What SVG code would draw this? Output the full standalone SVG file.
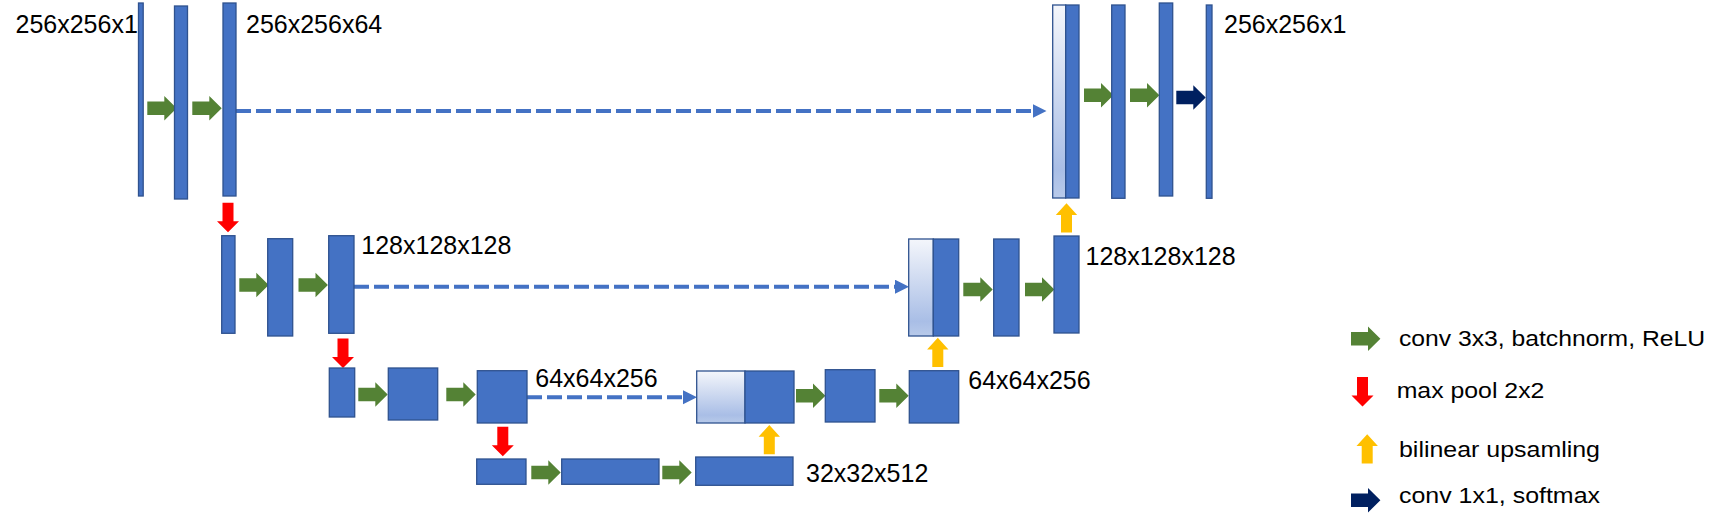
<svg xmlns="http://www.w3.org/2000/svg" xmlns:xlink="http://www.w3.org/1999/xlink" width="1722" height="525" viewBox="0 0 1722 525">
<style>
.b{fill:#4472C4;stroke:#2F528F;stroke-width:1.3}
.g{fill:url(#lg);stroke:#2F528F;stroke-width:1.3}
.lbl{font-family:"Liberation Sans",Arial,sans-serif;font-size:25px;fill:#000}
.leg{font-family:"Liberation Sans",Arial,sans-serif;font-size:21.5px;fill:#000}
.skip{fill:none;stroke:#4472C4;stroke-width:4;stroke-dasharray:15 5}
.grn{fill:#548235}
.red{fill:#FF0000}
.yel{fill:#FFC000}
.nav{fill:#002060}
</style>
<defs>
<linearGradient id="lg" x1="0" y1="0" x2="0" y2="1">
<stop offset="0" stop-color="#F4F6FB"/>
<stop offset="0.85" stop-color="#A9BEE6"/>
<stop offset="1" stop-color="#B8CAEA"/>
</linearGradient>
<marker id="ah" markerUnits="userSpaceOnUse" markerWidth="15" markerHeight="15" refX="0" refY="7" orient="auto">
<path d="M0,0 L14,7 L0,14 Z" fill="#4472C4"/>
</marker>
<path id="ar" d="M0,-6.7 H17 V-12.2 L29.4,0 L17,12.2 V6.7 H0 Z"/>
<path id="dn" d="M-5.5,0 H5.5 V18.5 H11 L0,29.5 L-11,18.5 H-5.5 Z"/>
<path id="up" d="M-5.5,0 V-17.5 H-10.7 L0,-29.3 L10.7,-17.5 H5.5 V0 Z"/>
</defs>

<g id="connectors">
<line class="skip" x1="236" y1="111" x2="1032.5" y2="111" marker-end="url(#ah)"/>
<line class="skip" x1="354" y1="286.7" x2="895" y2="286.7" marker-end="url(#ah)"/>
<line class="skip" x1="527" y1="397.3" x2="683" y2="397.3" marker-end="url(#ah)"/>
<use href="#ar" class="grn" x="147.3" y="108.3"/>
<use href="#ar" class="grn" x="192.3" y="108.3"/>
<use href="#ar" class="grn" x="239.3" y="285"/>
<use href="#ar" class="grn" x="298.5" y="285"/>
<use href="#ar" class="grn" x="358.3" y="394.5"/>
<use href="#ar" class="grn" x="446.3" y="394.5"/>
<use href="#ar" class="grn" x="531.3" y="472.5"/>
<use href="#ar" class="grn" x="662.3" y="472.5"/>
<use href="#ar" class="grn" x="796" y="395.8"/>
<use href="#ar" class="grn" x="879.3" y="395.8"/>
<use href="#ar" class="grn" x="963.3" y="289.5"/>
<use href="#ar" class="grn" x="1025" y="289.5"/>
<use href="#ar" class="grn" x="1084" y="95.2"/>
<use href="#ar" class="grn" x="1130" y="95.2"/>
<use href="#ar" class="nav" x="1176.3" y="97.5"/>
<use href="#dn" class="red" x="228" y="202.7"/>
<use href="#dn" class="red" x="343" y="338.5"/>
<use href="#dn" class="red" x="502.8" y="426.7"/>
<use href="#up" class="yel" x="769.3" y="454.3"/>
<use href="#up" class="yel" x="937.8" y="367"/>
<use href="#up" class="yel" x="1066.5" y="232.5"/>
</g>

<g id="enc1">
<rect id="n_in" class="b" x="138.5" y="3" width="4.7" height="193"/>
<rect class="b" x="174.5" y="6" width="13" height="193"/>
<rect class="b" x="223" y="3" width="13" height="193"/>
<text class="lbl" x="15.5" y="33.3">256x256x1</text>
<text class="lbl" x="246" y="33.3">256x256x64</text>
</g>
<g id="enc2">
<rect class="b" x="221.7" y="235.7" width="13.3" height="97.6"/>
<rect class="b" x="267.7" y="238.7" width="25" height="97.3"/>
<rect class="b" x="328.7" y="235.7" width="25.3" height="97.6"/>
<text class="lbl" x="361.3" y="254">128x128x128</text>
</g>
<g id="enc3">
<rect class="b" x="329.3" y="368" width="25.4" height="49"/>
<rect class="b" x="388.3" y="368" width="49.4" height="52"/>
<rect class="b" x="477.3" y="370.7" width="49.7" height="52.3"/>
<text class="lbl" x="535.3" y="387.3">64x64x256</text>
</g>
<g id="bottleneck">
<rect class="b" x="476.7" y="459" width="49.3" height="25.3"/>
<rect class="b" x="561.7" y="459" width="97.3" height="25.3"/>
<rect class="b" x="695.7" y="457" width="97.3" height="28.3"/>
<text class="lbl" x="806" y="481.7">32x32x512</text>
</g>
<g id="dec3">
<rect class="g" x="696.7" y="371" width="48.3" height="52"/>
<rect class="b" x="745" y="371" width="49" height="52"/>
<rect class="b" x="825.3" y="369.7" width="49.7" height="52.3"/>
<rect class="b" x="909.3" y="370.7" width="49.4" height="52.3"/>
<text class="lbl" x="968.3" y="389.3">64x64x256</text>
</g>
<g id="dec2">
<rect class="g" x="908.7" y="239" width="24.6" height="97"/>
<rect class="b" x="933.3" y="239" width="25.4" height="97"/>
<rect class="b" x="993.7" y="239" width="25.3" height="97"/>
<rect class="b" x="1054" y="236" width="25" height="97"/>
<text class="lbl" x="1085.5" y="265">128x128x128</text>
</g>
<g id="dec1">
<rect class="g" x="1052.7" y="5" width="13" height="193"/>
<rect class="b" x="1065.7" y="5" width="13.3" height="193"/>
<rect class="b" x="1111.7" y="5" width="13.3" height="193.3"/>
<rect class="b" x="1159.3" y="3" width="13.4" height="193"/>
<rect class="b" x="1206.3" y="5" width="5.7" height="193.3"/>
<text class="lbl" x="1224" y="33.3">256x256x1</text>
</g>
<g id="legend">
<use href="#ar" class="grn" x="1351" y="338.8"/>
<text class="leg" x="1399" y="345.7" textLength="306" lengthAdjust="spacingAndGlyphs">conv 3x3, batchnorm, ReLU</text>
<use href="#dn" class="red" x="1362.5" y="377"/>
<text class="leg" x="1396.7" y="398.3" textLength="147.7" lengthAdjust="spacingAndGlyphs">max pool 2x2</text>
<use href="#up" class="yel" x="1367.2" y="463.5"/>
<text class="leg" x="1399" y="456.5" textLength="201" lengthAdjust="spacingAndGlyphs">bilinear upsamling</text>
<use href="#ar" class="nav" x="1351" y="500.3"/>
<text class="leg" x="1399" y="503.3" textLength="201" lengthAdjust="spacingAndGlyphs">conv 1x1, softmax</text>
</g>
</svg>
